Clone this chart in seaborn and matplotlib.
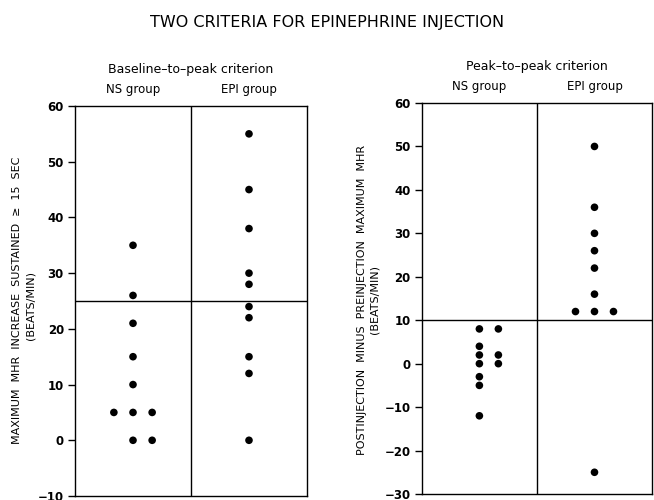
import numpy as np
import pandas as pd
import matplotlib
matplotlib.use("Agg")
import matplotlib.pyplot as plt
import seaborn as sns

groups = ["NS group", "EPI group"]

# baseline-to-peak criterion (left panel)
bp_ns = [35, 26, 21, 15, 10, 5, 5, 5, 0, 0]
bp_epi = [55, 45, 38, 30, 28, 24, 22, 15, 12, 0]
bp_cutoff = 25

# peak-to-peak criterion (right panel)
pp_ns = [8, 8, 4, 2, 2, 0, 0, -3, -5, -12]
pp_epi = [50, 36, 30, 26, 22, 16, 12, 12, 12, -25]
pp_cutoff = 10

sns.set_theme(style="white")
plt.rcParams['font.family'] = ['DejaVu Sans']
plt.rcParams['text.color'] = 'black'
plt.rcParams['xtick.color'] = 'black'
plt.rcParams['ytick.color'] = 'black'
plt.rcParams['axes.labelcolor'] = 'black'


def make_frame(ns, epi):
    df = pd.DataFrame({
        "group": [0] * len(ns) + [1] * len(epi),
        "value": ns + epi,
    })
    # tied values sit side by side: centre, right, left
    k = df.groupby(["group", "value"]).cumcount()
    shift = k.map({0: 0, 1: 1, 2: -1})
    df["xpos"] = df["group"] + 0.165 * shift
    return df


def draw_panel(ax, df, cutoff, ylim, subtitle, tpad):
    sns.scatterplot(data=df, x="xpos", y="value", color="black", s=30,
                    edgecolor="none", ax=ax, legend=False)
    ax.set_xlim(-0.5, 1.5)
    ax.set_ylim(*ylim)
    ax.set_yticks(np.arange(ylim[0], ylim[1] + 1, 10))
    ax.axvline(0.5, color="black", lw=1)
    ax.axhline(cutoff, color="black", lw=1)
    ax.set_xticks([0, 1])
    ax.set_xticklabels(groups)
    ax.xaxis.tick_top()
    ax.tick_params(axis="x", length=0, pad=7, labelsize=8.5)
    ax.tick_params(axis="y", left=True, length=5, width=1, direction="out",
                   labelsize=8.5, pad=3)
    for lab in ax.get_yticklabels():
        lab.set_fontweight("bold")
    ax.set_xlabel("")
    ax.set_ylabel("")
    ax.set_title(subtitle, fontsize=9, pad=tpad)
    for sp in ax.spines.values():
        sp.set_color("black")
        sp.set_linewidth(1)


fig = plt.figure(figsize=(6.54, 5.0), dpi=100)
ax1 = fig.add_axes([0.1147, 0.008, 0.3547, 0.78])
ax2 = fig.add_axes([0.645, 0.012, 0.352, 0.782])

draw_panel(ax1, make_frame(bp_ns, bp_epi), bp_cutoff, (-10, 60),
           "Baseline\u2013to\u2013peak criterion", 24)
draw_panel(ax2, make_frame(pp_ns, pp_epi), pp_cutoff, (-30, 60),
           "Peak\u2013to\u2013peak criterion", 24)

fig.text(0.5, 0.956, "TWO CRITERIA FOR EPINEPHRINE INJECTION", ha="center",
         va="center", fontsize=11.5)

fig.text(0.026, 0.40, "MAXIMUM  MHR  INCREASE  SUSTAINED  \u2265  15  SEC",
         rotation=90, ha="center", va="center", fontsize=8)
fig.text(0.046, 0.39, "(BEATS/MIN)", rotation=90, ha="center", va="center",
         fontsize=8)
fig.text(0.553, 0.40, "POSTINJECTION  MINUS  PREINJECTION  MAXIMUM  MHR",
         rotation=90, ha="center", va="center", fontsize=8)
fig.text(0.573, 0.40, "(BEATS/MIN)", rotation=90, ha="center", va="center",
         fontsize=8)

fig.savefig("out.png", dpi=100)
